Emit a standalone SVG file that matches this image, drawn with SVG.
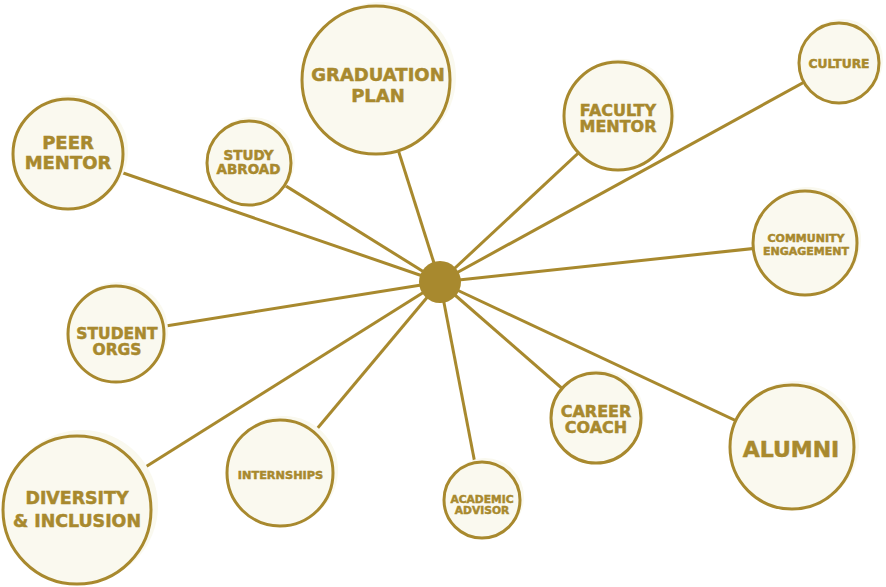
<svg xmlns="http://www.w3.org/2000/svg" width="886" height="587" viewBox="0 0 886 587">
<style>
.sh{fill:#faf9ef}
.c{fill:#faf9ef;stroke:#a8892e;stroke-width:3}
.t{font-family:"DejaVu Sans",sans-serif;font-weight:bold;fill:#a8892e;stroke:#a8892e;stroke-width:0.5;text-anchor:middle}
#links line{stroke:#a8892e;stroke-width:3}
</style>
<rect width="886" height="587" fill="#ffffff"/>
<g id="links">
<line x1="440" y1="282" x2="376" y2="80"/>
<line x1="440" y1="282" x2="618" y2="116"/>
<line x1="440" y1="282" x2="839" y2="63"/>
<line x1="440" y1="282" x2="805" y2="243"/>
<line x1="440" y1="282" x2="792" y2="447"/>
<line x1="440" y1="282" x2="596" y2="418"/>
<line x1="440" y1="282" x2="482" y2="500"/>
<line x1="440" y1="282" x2="280" y2="473"/>
<line x1="440" y1="282" x2="77" y2="510"/>
<line x1="440" y1="282" x2="116" y2="334"/>
<line x1="440" y1="282" x2="68" y2="154"/>
<line x1="440" y1="282" x2="249" y2="163"/>
</g>
<g id="hub"><circle cx="440" cy="282" r="21" fill="#a8892e"/></g>
<g id="graduation-plan">
<circle class="sh" cx="381" cy="77" r="75"/>
<circle class="c" cx="376" cy="80" r="74"/>
<text class="t" font-size="18" x="378" y="81">GRADUATION</text>
<text class="t" font-size="18" x="378" y="102">PLAN</text>
</g>
<g id="faculty-mentor">
<circle class="sh" cx="621" cy="113" r="54"/>
<circle class="c" cx="618" cy="116" r="54"/>
<text class="t" font-size="16" x="618" y="116">FACULTY</text>
<text class="t" font-size="16" x="618" y="132">MENTOR</text>
</g>
<g id="culture">
<circle class="sh" cx="842" cy="60" r="41"/>
<circle class="c" cx="839" cy="63" r="40"/>
<text class="t" font-size="12.3" x="839" y="68">CULTURE</text>
</g>
<g id="community-engagement">
<circle class="sh" cx="808" cy="240" r="53"/>
<circle class="c" cx="805" cy="243" r="52"/>
<text class="t" font-size="11" x="806" y="242">COMMUNITY</text>
<text class="t" font-size="11" x="806" y="255">ENGAGEMENT</text>
</g>
<g id="alumni">
<circle class="sh" cx="796" cy="444" r="63"/>
<circle class="c" cx="792" cy="447" r="62"/>
<text class="t" font-size="22" x="791" y="457">ALUMNI</text>
</g>
<g id="career-coach">
<circle class="sh" cx="599" cy="415" r="45"/>
<circle class="c" cx="596" cy="418" r="45"/>
<text class="t" font-size="16" x="596" y="417">CAREER</text>
<text class="t" font-size="16" x="596" y="433">COACH</text>
</g>
<g id="academic-advisor">
<circle class="sh" cx="485" cy="497" r="39"/>
<circle class="c" cx="482" cy="500" r="38"/>
<text class="t" font-size="10.7" x="482" y="503">ACADEMIC</text>
<text class="t" font-size="10.7" x="482" y="514">ADVISOR</text>
</g>
<g id="internships">
<circle class="sh" cx="284" cy="470" r="54"/>
<circle class="c" cx="280" cy="473" r="53"/>
<text class="t" font-size="11.3" x="280.5" y="479">INTERNSHIPS</text>
</g>
<g id="diversity-inclusion">
<circle class="sh" cx="82" cy="506" r="76"/>
<circle class="c" cx="77" cy="510" r="74"/>
<text class="t" font-size="17.4" x="77" y="504">DIVERSITY</text>
<text class="t" font-size="17.4" x="77" y="527">&amp; INCLUSION</text>
</g>
<g id="student-orgs">
<circle class="sh" cx="119" cy="331" r="49"/>
<circle class="c" cx="116" cy="334" r="48"/>
<text class="t" font-size="15.5" x="117" y="339">STUDENT</text>
<text class="t" font-size="15.5" x="117" y="355">ORGS</text>
</g>
<g id="peer-mentor">
<circle class="sh" cx="72" cy="151" r="56"/>
<circle class="c" cx="68" cy="154" r="55"/>
<text class="t" font-size="18" x="68" y="149">PEER</text>
<text class="t" font-size="18" x="68" y="169">MENTOR</text>
</g>
<g id="study-abroad">
<circle class="sh" cx="252" cy="160" r="43"/>
<circle class="c" cx="249" cy="163" r="42"/>
<text class="t" font-size="13.5" x="248.5" y="160">STUDY</text>
<text class="t" font-size="13.5" x="248.5" y="174">ABROAD</text>
</g>
</svg>
